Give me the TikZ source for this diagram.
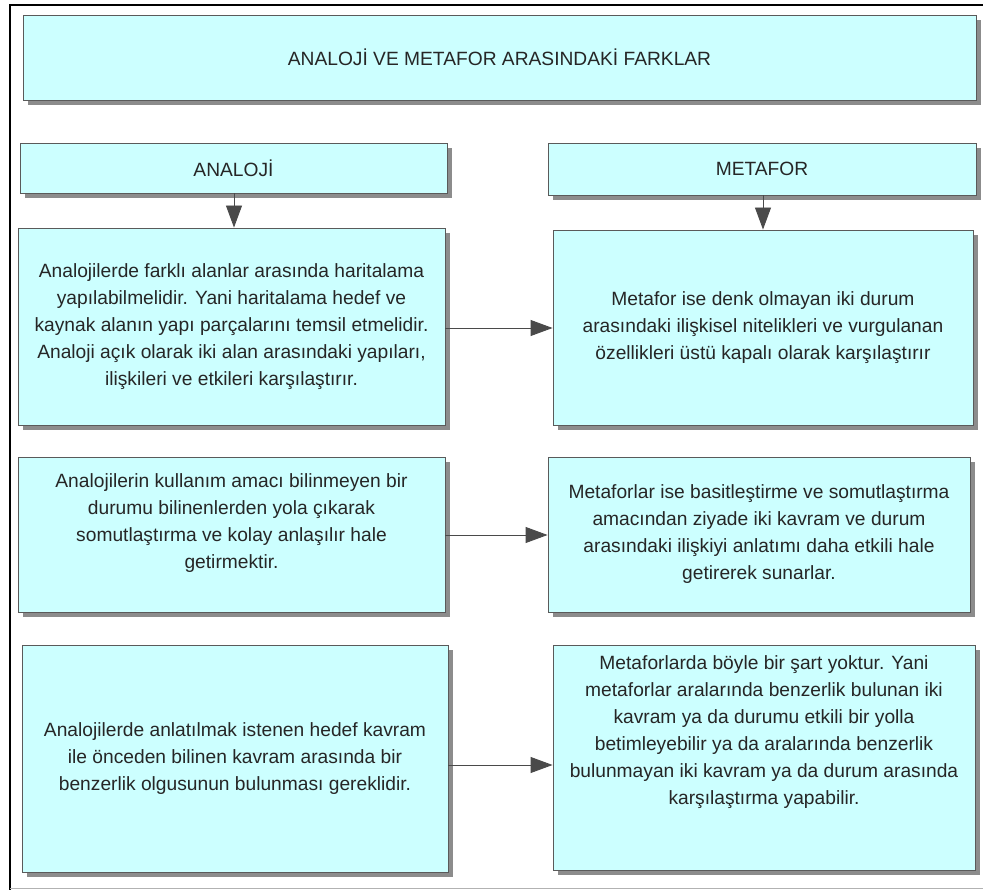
\documentclass[tikz,border=0pt]{standalone}
\usepackage{fontspec}
\setmainfont{Liberation Sans}
\usetikzlibrary{arrows.meta,shadows}
\definecolor{boxfill}{HTML}{CCFFFF}
\definecolor{boxline}{HTML}{5A5A5A}
\definecolor{shadowgray}{HTML}{8C8C8C}
\definecolor{arrowgray}{HTML}{4A4A4A}
\tikzset{
  panel/.style={draw=boxline, line width=0.9pt, fill=boxfill,
    drop shadow={shadow xshift=5pt, shadow yshift=-5pt, fill=shadowgray, opacity=1},
    font=\fontsize{19.2}{27}\selectfont, text=black!85, align=center, inner sep=0pt},
  link/.style={draw=arrowgray, line width=0.9pt,
    -{Triangle[length=22pt,width=16pt]}}
}
\begin{document}
\begin{tikzpicture}[x=1pt,y=-1pt]
  \useasboundingbox (0,0) rectangle (983,890);
  % outer frame
  \draw[black, line width=2pt] (10,890) -- (10,5) -- (983,5);
  \draw[gray!60, line width=1pt] (10,888) -- (983,888);

  % title
  \node[panel, minimum width=953, minimum height=85] (title) at (499.5,57.5)
    {ANALOJİ VE METAFOR ARASINDAKİ FARKLAR};

  % column heads
  \node[panel, minimum width=427, minimum height=50] (ana) at (233.5,168)
    {ANALOJİ};
  \node[panel, minimum width=428, minimum height=52] (met) at (762,169)
    {METAFOR};

  % row 1
  \node[panel, minimum width=427, minimum height=197] (a1) at (231.5,326.5)
    {Analojilerde farklı alanlar arasında haritalama\\
     yapılabilmelidir. Yani haritalama hedef ve\\
     kaynak alanın yapı parçalarını temsil etmelidir.\\
     Analoji açık olarak iki alan arasındaki yapıları,\\
     ilişkileri ve etkileri karşılaştırır.};
  \node[panel, minimum width=420, minimum height=195] (m1) at (763,327.5)
    {Metafor ise denk olmayan iki durum\\
     arasındaki ilişkisel nitelikleri ve vurgulanan\\
     özellikleri üstü kapalı olarak karşılaştırır};

  % row 2 (left text sits half a line above the middle)
  \node[panel, minimum width=427, minimum height=155] (a2) at (231.5,534.5)
    {Analojilerin kullanım amacı bilinmeyen bir\\
     durumu bilinenlerden yola çıkarak\\
     somutlaştırma ve kolay anlaşılır hale\\
     getirmektir.\\ \mbox{}};
  \node[panel, minimum width=422, minimum height=155] (m2) at (759,534.5)
    {Metaforlar ise basitleştirme ve somutlaştırma\\
     amacından ziyade iki kavram ve durum\\
     arasındaki ilişkiyi anlatımı daha etkili hale\\
     getirerek sunarlar.};

  % row 3 (right text sits one line above the middle)
  \node[panel, minimum width=426, minimum height=227] (a3) at (235,758.5)
    {Analojilerde anlatılmak istenen hedef kavram\\
     ile önceden bilinen kavram arasında bir\\
     benzerlik olgusunun bulunması gereklidir.};
  \node[panel, minimum width=422, minimum height=225] (m3) at (764,757.5)
    {Metaforlarda böyle bir şart yoktur. Yani\\
     metaforlar aralarında benzerlik bulunan iki\\
     kavram ya da durumu etkili bir yolla\\
     betimleyebilir ya da aralarında benzerlik\\
     bulunmayan iki kavram ya da durum arasında\\
     karşılaştırma yapabilir.\\ \mbox{}\\ \mbox{}};

  % connectors
  \draw[link] (ana.south -| 234,0) -- (a1.north -| 234,0);
  \draw[link] (met.south -| 763,0) -- (m1.north -| 763,0);
  \draw[link] (a1.east |- 0,328) -- (m1.west |- 0,328);
  \draw[link] (a2.east |- 0,535) -- (m2.west |- 0,535);
  \draw[link] (a3.east |- 0,765) -- (m3.west |- 0,765);
\end{tikzpicture}
\end{document}
